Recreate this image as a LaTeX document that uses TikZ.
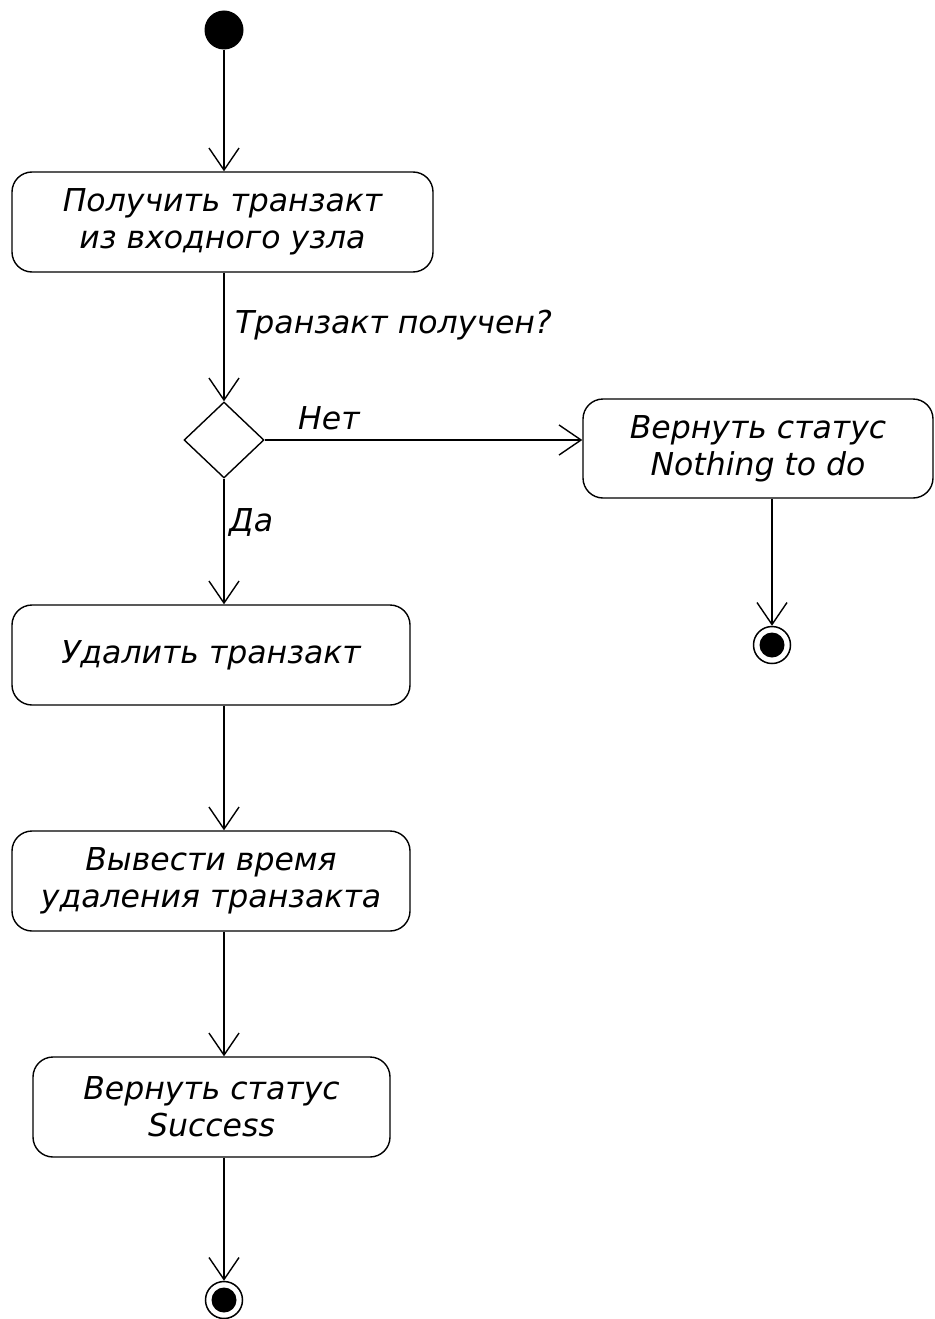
\documentclass[tikz,border=0pt]{standalone}
\usepackage{fontspec}
\setmainfont{DejaVu Sans}
\usetikzlibrary{arrows.meta,shapes.geometric}
\tikzset{
  conn/.style={line width=1.4pt, -{Straight Barb[length=22pt,width=30pt,line width=1.4pt]}},
  act/.style={draw, line width=1.4pt, rounded corners=20pt, inner sep=0pt, align=center,
    font=\fontsize{31.5}{37}\selectfont\itshape},
  lbl/.style={anchor=west, inner sep=0pt, font=\fontsize{31.5}{37}\selectfont\itshape},
  startnode/.style={circle, fill=black, minimum size=39pt, inner sep=0pt},
  endnode/.style={circle, draw, line width=1.5pt, fill=white, minimum size=37pt, inner sep=0pt,
    path picture={\fill[black] (path picture bounding box.center) circle (12.5pt);}},
  decision/.style={diamond, draw, line width=1.4pt, minimum width=80pt, minimum height=76pt, inner sep=0pt}
}
\begin{document}
\begin{tikzpicture}[x=1pt,y=-1pt]
\useasboundingbox (0,0) rectangle (934,1319);
\node[startnode] (start) at (224,30) {};
\node[act, minimum width=421pt, minimum height=100pt] (b1) at (222.5,222) {Получить транзакт\\из входного узла};
\node[decision] (d) at (224,440) {};
\node[act, minimum width=350pt, minimum height=99pt] (b2) at (758,448.5) {Вернуть статус\\Nothing to do};
\node[endnode] (e1) at (772,645) {};
\node[act, minimum width=398pt, minimum height=100pt] (b3) at (211,655) {Удалить транзакт};
\node[act, minimum width=398pt, minimum height=100pt] (b4) at (211,881) {Вывести время\\удаления транзакта};
\node[act, minimum width=357pt, minimum height=100pt] (b5) at (211.5,1107) {Вернуть статус\\Success};
\node[endnode] (e2) at (224,1300) {};

\node[lbl] (l1) at (235,325) {Транзакт получен?};
\node[lbl] (l2) at (298,418) {Нет};
\node[lbl] (l3) at (229,522) {Да};

\draw[conn] (start) -- (start |- b1.north);
\draw[conn] (b1.south -| d.north) -- (d.north);
\draw[conn] (d.east) -- (b2.west |- d.east);
\draw[conn] (b2.south -| e1.north) -- (e1.north);
\draw[conn] (d.south) -- (d.south |- b3.north);
\draw[conn] (b3.south -| d.south) -- (d.south |- b4.north);
\draw[conn] (b4.south -| d.south) -- (d.south |- b5.north);
\draw[conn] (b5.south -| e2.north) -- (e2.north);
\end{tikzpicture}
\end{document}
